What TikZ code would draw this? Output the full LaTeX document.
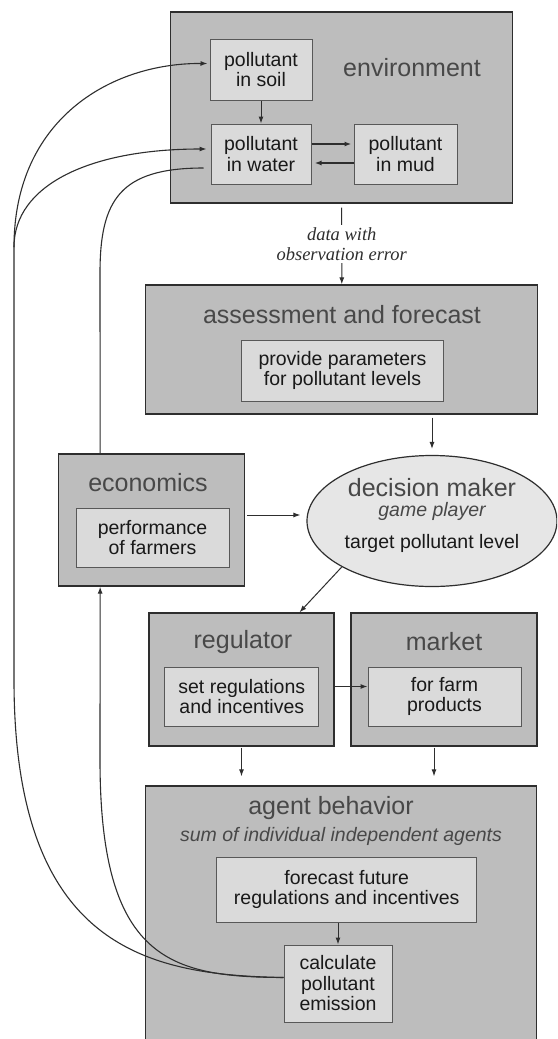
\documentclass[tikz,border=0pt]{standalone}
\usepackage{fontspec}
\setmainfont{Liberation Sans}
\newfontfamily\datafont{Liberation Serif}
\usetikzlibrary{shapes.geometric,arrows.meta}
\definecolor{outergray}{HTML}{BDBDBD}
\definecolor{innergray}{HTML}{DADADA}
\definecolor{ellgray}{HTML}{E6E6E6}
\definecolor{headgray}{HTML}{484848}
\definecolor{linegray}{HTML}{2E2E2E}
\newcommand\headfont{\fontsize{25}{28}\selectfont}
\newcommand\bodyfont{\fontsize{19.5}{20.5}\selectfont}

\begin{document}
\begin{tikzpicture}[x=1pt,y=-1pt,
  outerbox/.style={draw=linegray,line width=1.3pt,fill=outergray,inner sep=0pt},
  innerbox/.style={draw=linegray!80,line width=1pt,fill=innergray,inner sep=0pt,
    align=center,font=\bodyfont,text=black!90},
  head/.style={font=\headfont,text=headgray},
  arr/.style={-{Latex[length=7pt,width=5pt]},line width=1pt,linegray},
  link/.style={line width=1.1pt,linegray}]
\clip (0,0) rectangle (557,1039);
\fill[white] (0,0) rectangle (557,1039);

% environment
\node[outerbox,minimum width=342pt,minimum height=191pt] (env) at (341.7,107.5) {};
\node[head] (envhead) at (412,68) {environment};
\node[innerbox,minimum width=102pt,minimum height=61pt] (soil) at (261,69.5) {pollutant\\in soil};
\node[innerbox,minimum width=100pt,minimum height=60pt] (water) at (261,154) {pollutant\\in water};
\node[innerbox,minimum width=103pt,minimum height=60pt] (mud) at (405.5,154) {pollutant\\in mud};
\draw[arr] (soil.south) -- (water.north);
\draw[arr,line width=1.6pt,shorten >=2pt] ([yshift=10pt]water.east) -- ([yshift=10pt]mud.west);
\draw[arr,line width=1.6pt,shorten >=3pt] ([yshift=-9pt]mud.west) -- ([yshift=-9pt]water.east);

% assessment
\node[outerbox,minimum width=392pt,minimum height=129pt] (assess) at (341.8,349.5) {};
\node[head] (assesshead) at (342,315) {assessment and forecast};
\node[innerbox,minimum width=202pt,minimum height=61pt] (param) at (342.5,370.5) {provide parameters\\for pollutant levels};
\draw[arr,shorten <=4pt] (env.south) -- (assess.north)
  node[midway,fill=white,inner sep=2pt,align=center,font=\datafont\itshape\fontsize{18.5}{20}\selectfont] (obs) {data with\\observation error};

% economics
\node[outerbox,minimum width=186pt,minimum height=132pt] (econ) at (151.8,520) {};
\node[head] (econhead) at (148,483) {economics};
\node[innerbox,minimum width=153pt,minimum height=59pt] (perf) at (152.5,537.5) {performance\\of farmers};

% decision maker
\node[ellipse,draw=linegray,line width=1.2pt,fill=ellgray,minimum width=250pt,minimum height=131pt] (dm) at (432,521) {};
\node[head] (dmhead) at (432,488) {decision maker};
\node[font=\bodyfont\itshape,text=headgray] (dmrole) at (432,511) {game player};
\node[font=\bodyfont,text=black!90] (dmtarget) at (432,543) {target pollutant level};
\draw[arr,shorten <=3pt,shorten >=6pt] (assess.south -| dm.north) -- (dm.north);
\draw[arr,shorten <=2pt,shorten >=6pt] ([yshift=5pt]econ.east) -- ([yshift=5pt]econ.east -| dm.west);

% regulator and market
\node[outerbox,minimum width=185pt,minimum height=133pt] (reg) at (241.5,679.5) {};
\node[head] (reghead) at (243,642) {regulator};
\node[innerbox,minimum width=154pt,minimum height=59pt] (setreg) at (241.8,696.5) {set regulations\\and incentives};
\node[outerbox,minimum width=186pt,minimum height=133pt] (market) at (444,679.5) {};
\node[head] (markethead) at (444,642) {market};
\node[innerbox,minimum width=153pt,minimum height=59pt] (farm) at (444.5,696.5) {for farm\\products};
\draw[arr] (dm.207) -- ([xshift=58pt]reg.north);
\coordinate (rm) at ([yshift=10pt]farm.west);
\draw[arr] (reg.east |- rm) -- (rm);

% agent behavior
\node[outerbox,minimum width=391pt,minimum height=274pt] (agent) at (341.3,923) {};
\node[head] (agenthead) at (331,808) {agent behavior};
\node[font=\bodyfont\itshape,text=headgray] (agentsum) at (341,836) {sum of individual independent agents};
\node[innerbox,minimum width=260pt,minimum height=65pt] (future) at (346.7,889.5) {forecast future\\regulations and incentives};
\node[innerbox,minimum width=108pt,minimum height=77pt] (calc) at (338,983.5) {calculate\\pollutant\\emission};
\draw[arr] (future.south -| calc.north) -- (calc.north);
\draw[arr,shorten <=1pt,shorten >=9pt] (reg.south) -- (reg.south |- agent.north);
\draw[arr,shorten <=1pt,shorten >=9pt] ([xshift=-10pt]market.south) -- ([xshift=-10pt]market.south |- agent.north);

% feedback to the environment
\coordinate (emit) at ([yshift=6pt]calc.west);
\coordinate (bend) at (14,247);
\draw[link] (emit) .. controls (150,975) and (14,950) .. (14,680) -- (bend);
\draw[arr,link,shorten >=2pt] (bend) .. controls (14,120) and (110,63) .. ([yshift=6pt]soil.west);
\draw[arr,link,shorten >=4pt] (bend) .. controls (14,185) and (90,149) .. ([yshift=5pt]water.west);
\draw[link,shorten <=7pt] ([yshift=-14pt]water.west) .. controls (120,168) and (100,200) .. (100,273) -- ([xshift=42pt]econ.north west);
\draw[arr,link] (emit) .. controls (170,977) and (100,960) .. (100,760) -- ([xshift=42pt]econ.south west);
\end{tikzpicture}
\end{document}
